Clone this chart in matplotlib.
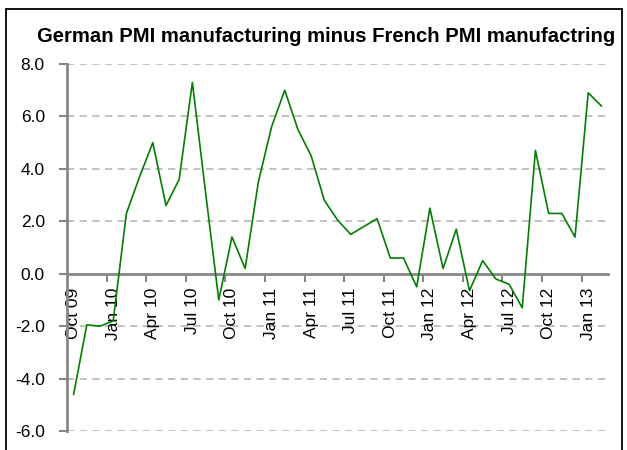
from matplotlib import pyplot
from matplotlib.patches import Rectangle
import numpy

months = ['Oct 09', 'Nov 09', 'Dec 09',
          'Jan 10', 'Feb 10', 'Mar 10', 'Apr 10', 'May 10', 'Jun 10',
          'Jul 10', 'Aug 10', 'Sep 10', 'Oct 10', 'Nov 10', 'Dec 10',
          'Jan 11', 'Feb 11', 'Mar 11', 'Apr 11', 'May 11', 'Jun 11',
          'Jul 11', 'Aug 11', 'Sep 11', 'Oct 11', 'Nov 11', 'Dec 11',
          'Jan 12', 'Feb 12', 'Mar 12', 'Apr 12', 'May 12', 'Jun 12',
          'Jul 12', 'Aug 12', 'Sep 12', 'Oct 12', 'Nov 12', 'Dec 12',
          'Jan 13', 'Feb 13']
pmi_diff = [-4.6, -1.95, -2.0,
            -1.8, 2.3, 3.7, 5.0, 2.6, 3.6,
            7.3, 3.1, -1.0, 1.4, 0.2, 3.5,
            5.6, 7.0, 5.5, 4.5, 2.8, 2.05,
            1.5, 1.8, 2.1, 0.6, 0.6, -0.5,
            2.5, 0.2, 1.7, -0.65, 0.5, -0.2,
            -0.4, -1.3, 4.7, 2.3, 2.3, 1.4,
            6.9, 6.4]
y_ticks = [-6.0, -4.0, -2.0, 0.0, 2.0, 4.0, 6.0, 8.0]

pyplot.rcParams['font.family'] = ['Liberation Sans', 'DejaVu Sans']

fig = pyplot.figure(figsize=(6.27, 4.5), dpi=100)
ax = fig.add_axes([0.1069, 0.0422, 0.8628, 0.8156])

x = numpy.arange(len(months))
ax.plot(x, pmi_diff, color='#008000', linewidth=1.2, zorder=3)

ax.set_xlim(-0.5, len(months) - 0.5)
ax.set_ylim(-6, 8)

# gridlines
for y in y_ticks:
    if y != 0:
        ax.axhline(y, color='#bdbdbd', linestyle=(0, (4, 3)), linewidth=1.3, zorder=1)

ax.set_yticks(y_ticks)
ax.set_yticklabels(['%.1f' % v for v in y_ticks])

# ticks at quarter boundaries, labels at category centres
ax.set_xticks(numpy.arange(2.5, len(months) - 1, 3))
ax.set_xticklabels([])
ax.set_xticks(x[::3], minor=True)
ax.set_xticklabels(months[::3], minor=True)

ax.spines['top'].set_visible(False)
ax.spines['right'].set_visible(False)
ax.spines['bottom'].set_position(('data', 0))
for s in ('left', 'bottom'):
    ax.spines[s].set_color('#878787')
    ax.spines[s].set_linewidth(2)

ax.tick_params(axis='y', direction='out', length=6, width=1.5, color='#878787',
               labelsize=12.5, pad=10)
ax.tick_params(axis='x', which='major', direction='out', length=6, width=1.5,
               color='#878787')
ax.tick_params(axis='x', which='minor', length=0, labelsize=12.5, pad=10,
               labelrotation=90)

fig.text(0.52, 0.92, 'German PMI manufacturing minus French PMI manufactring',
         ha='center', va='center', fontsize=14.6, fontweight='bold')

fig.patches.append(Rectangle((6 / 627, -0.1), 616 / 627, 1.1 - 8.5 / 450,
                             transform=fig.transFigure, fill=False,
                             edgecolor='black', linewidth=1.3))

pyplot.savefig('out.png', dpi=100)
